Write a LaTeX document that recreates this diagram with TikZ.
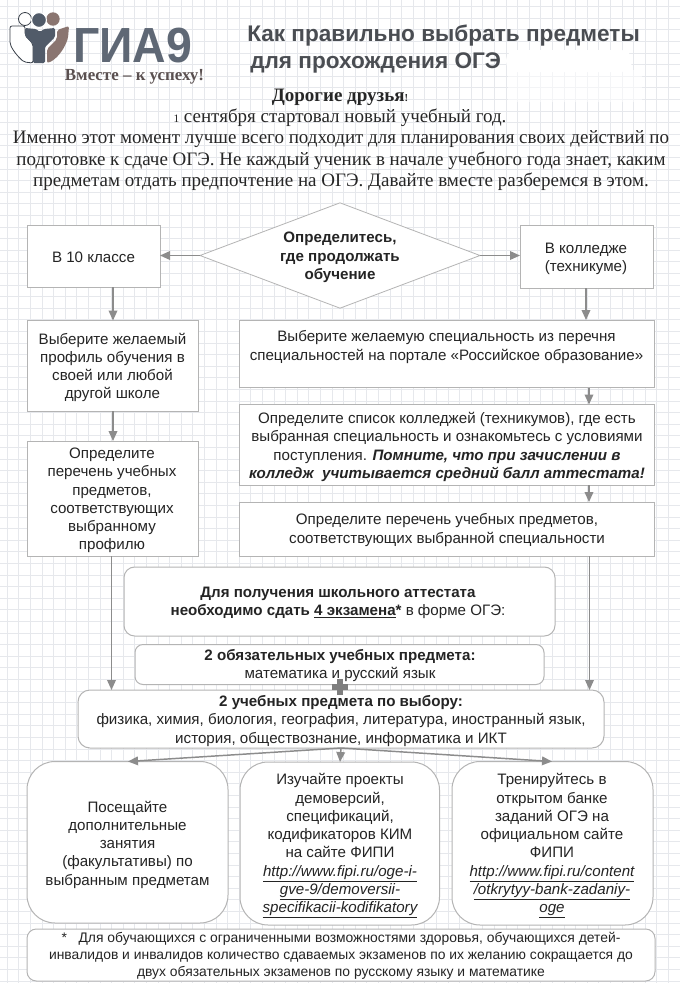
\documentclass[tikz,border=0pt]{standalone}
\usepackage{fontspec}
\setmainfont{Liberation Sans}
\newfontfamily\serifcyr{Liberation Serif}
\usetikzlibrary{arrows.meta,fit,shapes.geometric}
\definecolor{gridc}{HTML}{E6E8EC}
\definecolor{bord}{HTML}{B4B4B4}
\definecolor{arrc}{HTML}{8C8C8C}
\definecolor{txt}{HTML}{242424}
\definecolor{ttl}{HTML}{4A4D52}
\definecolor{logod}{HTML}{515B69}
\definecolor{logob}{HTML}{8A7570}
\definecolor{logot}{HTML}{5A5050}
\tikzset{
 sqbox/.style={draw=bord,line width=0.75pt,fill=white,inner sep=0pt,outer sep=0pt},
 rbox/.style={sqbox,rounded corners=#1},
 lbl/.style={align=center,inner sep=0pt,text=txt,font=\fontsize{11.35pt}{13.7pt}\selectfont},
 lblf/.style={align=center,inner sep=0pt,text=txt,font=\fontsize{10.4pt}{12.75pt}\selectfont},
 serifl/.style={align=center,inner sep=0pt,text=black!85,font=\serifcyr\fontsize{14.25pt}{16pt}\selectfont},
 conn/.style={draw=arrc,line width=1.1pt,-{Triangle[length=7.5pt,width=6.5pt]}},
 ttlst/.style={anchor=base west,inner sep=0pt,text=ttl,font=\bfseries\fontsize{16.95pt}{19pt}\selectfont},
}
\newcommand{\bx}[6]{\node[#6,fit={(#2,#3) (#4,#5)}] (#1) {};}
\begin{document}
\begin{tikzpicture}[x=0.75pt,y=-0.75pt]
\useasboundingbox (0,0) rectangle (680,983);
\clip (0,0) rectangle (680,983);
\fill[white] (0,0) rectangle (680,983);
% grid
\foreach \i in {0,...,60} {\draw[gridc,line width=0.45pt] ({7+\i*11.6},0) -- ({7+\i*11.6},983);}
\foreach \i in {0,...,85} {\draw[gridc,line width=0.45pt] (0,{6.4+\i*11.6}) -- (680,{6.4+\i*11.6});}
% blurred patch in the title
\fill[white,opacity=.55] (508,70) rectangle (642,102);
\fill[white,rounded corners=8pt] (506,50) rectangle (632,72);
% logo
\draw[logod!70!black,line width=0.6pt,fill=white] (25,19) circle (6.5);
\fill[logob] (53,19) circle (6.7);
\draw[white,line width=0.8pt,fill=logod] (39,20) circle (7.4);
\draw[logod!70!black,line width=0.6pt,fill=white,rounded corners=1.5pt]
  (10,26) -- (25,26) -- (25,35) -- (33,44) -- (33,63) -- (24,62) .. controls (15,54) and (10,46) .. (10,40) -- cycle;
\fill[logod,rounded corners=1pt] (25,28) -- (36,29) -- (40,32) -- (44,29) -- (55,28) -- (55,37) -- (45,47) -- (45,63) -- (33,63) -- (33,44) -- (25,36) -- cycle;
\fill[logob,rounded corners=1.5pt] (57,30) -- (69,26) -- (68,38) .. controls (64,50) and (56,60) .. (47,63) -- (47,49) -- (57,39) -- cycle;
\node[anchor=base west,inner sep=0pt,text=logod!92!white,font=\bfseries\fontsize{37pt}{40pt}\selectfont] (logotxt) at (73,62) {\scalebox{.94}[1]{ГИА9}};
\node[inner sep=0pt,text=logot,font=\serifcyr\bfseries\fontsize{12.7pt}{14pt}\selectfont] (logosub) at (134.5,77) {Вместе – к успеху!};
% title
\node[ttlst] (t1) at (247,41) {Как правильно выбрать предметы};
\node[ttlst] (t2) at (250,68.5) {для прохождения ОГЭ};
% intro
\node[serifl] (s0) at (340,97) {\bfseries Дорогие друзья{\fontsize{8pt}{9pt}\selectfont !}};
\node[serifl] (s1) at (340,118) {{\fontsize{8.5pt}{9pt}\selectfont 1} сентября стартовал новый учебный год.};
\node[serifl] (s2) at (341,139.5) {Именно этот момент лучше всего подходит для планирования своих действий по};
\node[serifl] (s3) at (341,161) {подготовке к сдаче ОГЭ. Не каждый ученик в начале учебного года знает, каким};
\node[serifl] (s4) at (341,182) {предметам отдать предпочтение на ОГЭ. Давайте вместе разберемся в этом.};
% boxes
\bx{n10}{27}{225}{160}{287}{sqbox}
\bx{prof}{27}{320.5}{198}{411}{sqbox}
\bx{pered}{27}{441}{198}{556}{sqbox}
\node[diamond,draw=bord,line width=0.6pt,fill=white,inner sep=0pt,outer sep=0pt,minimum width=210pt,minimum height=79pt] (dia) at (340,255.5) {};
\bx{col}{520}{225.5}{653}{288}{sqbox}
\bx{spec}{239}{320}{654}{387.5}{sqbox}
\bx{list}{239}{404.5}{654}{485}{sqbox}
\bx{pers}{239}{502}{654}{556}{sqbox}
\bx{att}{124}{567}{555}{636}{rbox=8pt}
\bx{oblig}{135}{644.5}{544}{684.5}{rbox=6pt}
\bx{choice}{78}{690}{604}{748}{rbox=9pt}
\bx{ra}{27}{761.5}{228}{923}{rbox=21pt}
\bx{rb}{240}{762}{439.5}{925}{rbox=21pt}
\bx{rc}{452}{761.5}{653}{925}{rbox=21pt}
\bx{foot}{27}{929}{655}{981}{rbox=7pt}
% connectors
\draw[conn] (dia.west) -- (n10.east |- dia.west);
\draw[conn] (dia.east) -- (col.west |- dia.east);
\draw[conn] (113,0 |- n10.south) -- (113,0 |- prof.north);
\draw[conn] (113,0 |- prof.south) -- (113,0 |- pered.north);
\draw[conn] (111.5,0 |- pered.south) -- (111.5,0 |- choice.north);
\draw[conn] (586,0 |- col.south) -- (586,0 |- spec.north);
\draw[conn] (589,0 |- spec.south) -- (589,0 |- list.north);
\draw[conn] (589,0 |- list.south) -- (589,0 |- pers.north);
\draw[conn] (589.5,0 |- pers.south) -- (589.5,0 |- choice.north);
\draw[conn] (choice.south) -- (128,0 |- ra.north);
\draw[conn] (choice.south) -- (340,0 |- rb.north);
\draw[conn] (choice.south) -- (552,0 |- rc.north);
% labels
\node[lbl] (n10t) at (93.5,257) {В 10 классе};
\node[lbl] (proft) at (112.5,367.5) {Выберите желаемый\\профиль обучения в\\своей или любой\\другой школе};
\node[lbl] (peredt) at (112,500.5) {Определите\\перечень учебных\\предметов,\\соответствующих\\выбранному\\профилю};
\node[lbl,font=\bfseries\fontsize{11.35pt}{13.7pt}\selectfont] (diat) at (340,257.5) {Определитесь,\\где продолжать\\обучение};
\node[lbl] (colt) at (586,259) {В колледже\\(техникуме)};
\node[lbl] (spect) at (446.5,347) {Выберите желаемую специальность из перечня\\специальностей на портале «Российское образование»};
\node[lbl] (listt) at (447,447) {Определите список колледжей (техникумов), где есть\\выбранная специальность и ознакомьтесь с условиями\\поступления. {\bfseries\itshape Помните, что при зачислении в}\\{\bfseries\itshape колледж\ \ учитывается средний балл аттестата!}};
\node[lbl] (perst) at (447,530) {Определите перечень учебных предметов,\\соответствующих выбранной специальности};
\node[lbl] (attt) at (338,602.5) {\bfseries Для получения школьного аттестата\\{\bfseries необходимо сдать \underline{4 экзамена}*} в форме ОГЭ:};
\node[lbl] (obligt) at (340,665.5) {\bfseries 2 обязательных учебных предмета:\\математика и русский язык};
\node[lbl] (choicet) at (341,721) {\bfseries 2 учебных предмета по выбору:\\физика, химия, биология, география, литература, иностранный язык,\\история, обществознание, информатика и ИКТ};
\node[lbl] (rat) at (127.5,844.5) {Посещайте\\дополнительные\\занятия\\(факультативы) по\\выбранным предметам};
\node[lbl] (rbt) at (340,846) {Изучайте проекты\\демоверсий,\\спецификаций,\\кодификаторов КИМ\\на сайте ФИПИ\\\underline{\itshape http://www.fipi.ru/oge-i-}\\\underline{\itshape gve-9/demoversii-}\\\underline{\itshape specifikacii-kodifikatory}};
\node[lbl] (rct) at (552,846) {Тренируйтесь в\\открытом банке\\заданий ОГЭ на\\официальном сайте\\ФИПИ\\\underline{\itshape http://www.fipi.ru/content}\\\underline{\itshape /otkrytyy-bank-zadaniy-}\\\underline{\itshape oge}};
\node[lblf] (foott) at (341,955.5) {*\ \ \ Для обучающихся с ограниченными возможностями здоровья, обучающихся детей-\\инвалидов и инвалидов количество сдаваемых экзаменов по их желанию сокращается до\\двух обязательных экзаменов по русскому языку и математике};
% plus
\draw[arrc!90!black,line width=4.2pt] (340,679) -- (340,695);
\draw[arrc!90!black,line width=4.2pt] (332,687) -- (348,687);
\end{tikzpicture}
\end{document}
